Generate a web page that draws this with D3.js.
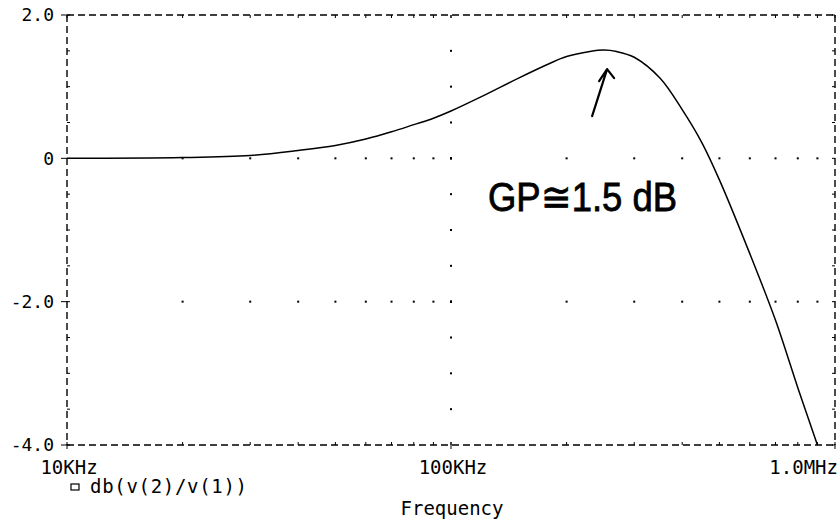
<!DOCTYPE html>
<html>
<head>
<meta charset="utf-8">
<script src="https://cdn.jsdelivr.net/npm/d3@7"></script>
<style>
  body { margin: 0; background: #fff; }
  text { font-family: "DejaVu Sans Mono", monospace; fill: #000; }
</style>
</head>
<body>
<svg id="chart" width="840" height="521"></svg>
<script>
// frequency (Hz) and gain db(v(2)/v(1))
const freqs = [1e4, 2e4, 3e4, 4e4, 5e4, 6e4, 7e4, 8e4, 9e4, 1e5, 1.2e5, 1.5e5, 1.8e5, 2e5,
               2.3e5, 2.5e5, 2.7e5, 3e5, 3.5e5, 4e5, 4.5e5, 5e5, 6e5, 7e5, 8e5, 9e5];
const gainDb = [0, 0.01, 0.04, 0.11, 0.18, 0.27, 0.37, 0.47, 0.56, 0.66, 0.86, 1.12, 1.32, 1.42,
                1.49, 1.51, 1.49, 1.41, 1.12, 0.68, 0.22, -0.30, -1.33, -2.26, -3.2, -4.0];

const xTicks = [1e4, 1e5, 1e6];
const xTickLabels = ["10KHz", "100KHz", "1.0MHz"];
const yTicks = [-4, -2, 0, 2];
const yTickLabels = ["-4.0", "-2.0", "0", "2.0"];
const seriesName = "db(v(2)/v(1))";
const note = "GP\u22451.5 dB";

let svg = d3.select('#chart');
let margin = {left: 67, right: 5, top: 15, bottom: 76};
let width = 840 - margin.left - margin.right;
let height = 521 - margin.top - margin.bottom;

let g = svg.append('g').attr('transform', `translate(${margin.left},${margin.top})`);

let x = d3.scaleLog().domain([1e4, 1e6]).range([0, width]);
let y = d3.scaleLinear().domain([-4, 2]).range([height, 0]);

// minor positions: log steps on x, 0.5 dB on y
let xMinor = [];
[1e4, 1e5].forEach(function(dec) {
    for (let m = 1; m <= 10; m++) xMinor.push(dec * m);
});
let yMinor = d3.range(-4, 2.01, 0.5);

// dotted grid (square dots) at 0 and -2.0 horizontally, at 100KHz vertically
let grid = g.append('g').attr('class', 'grid');
[0, -2].forEach(function(v) {
    grid.selectAll(null)
        .data(xMinor.filter(function(f) { return f > 1e4 && f < 1e6; }))
        .enter().append('rect')
        .attr('x', function(f) { return x(f) - 1; })
        .attr('y', y(v) - 1)
        .attr('width', 2).attr('height', 2)
        .attr('fill', '#000');
});
grid.selectAll(null)
    .data(yMinor.filter(function(v) { return v > -4 && v < 2; }))
    .enter().append('rect')
    .attr('x', x(1e5) - 1)
    .attr('y', function(v) { return y(v) - 1; })
    .attr('width', 2).attr('height', 2)
    .attr('fill', '#000');

// dashed frame
let frame = g.append('g')
    .attr('stroke', '#000')
    .attr('stroke-width', 1.4)
    .attr('stroke-dasharray', '7,4')
    .attr('fill', 'none');
frame.append('line').attr('x1', 0).attr('x2', width).attr('y1', 0).attr('y2', 0);
frame.append('line').attr('x1', 0).attr('x2', width).attr('y1', height).attr('y2', height);
frame.append('line').attr('x1', 0).attr('x2', 0).attr('y1', 0).attr('y2', height);
frame.append('line').attr('x1', width).attr('x2', width).attr('y1', 0).attr('y2', height);

// small tick marks on the frame
let ticks = g.append('g').attr('stroke', '#000').attr('stroke-width', 1);
xMinor.forEach(function(f) {
    ticks.append('line').attr('x1', x(f)).attr('x2', x(f)).attr('y1', 0).attr('y2', 3);
    ticks.append('line').attr('x1', x(f)).attr('x2', x(f)).attr('y1', height - 3).attr('y2', height);
});
yMinor.forEach(function(v) {
    ticks.append('line').attr('x1', 0).attr('x2', 3).attr('y1', y(v)).attr('y2', y(v));
    ticks.append('line').attr('x1', width - 3).attr('x2', width).attr('y1', y(v)).attr('y2', y(v));
});
yTicks.forEach(function(v) {
    ticks.append('line').attr('x1', -6).attr('x2', 0).attr('y1', y(v)).attr('y2', y(v));
});
xTicks.forEach(function(f) {
    ticks.append('line').attr('x1', x(f)).attr('x2', x(f)).attr('y1', height).attr('y2', height + 4);
});

// tick labels
g.selectAll('.ylab')
    .data(yTicks)
    .enter().append('text')
    .attr('class', 'ylab')
    .attr('x', -13)
    .attr('y', function(v) { return y(v); })
    .attr('dy', '0.36em')
    .attr('text-anchor', 'end')
    .style('font-size', '18px')
    .text(function(v, i) { return yTickLabels[i]; });

g.selectAll('.xlab')
    .data(xTicks)
    .enter().append('text')
    .attr('class', 'xlab')
    .attr('x', function(f, i) { return i === xTicks.length - 1 ? x(f) + 3 : x(f) + 2; })
    .attr('y', height + 29)
    .attr('text-anchor', function(f, i) { return i === xTicks.length - 1 ? 'end' : 'middle'; })
    .style('font-size', '19px')
    .text(function(f, i) { return xTickLabels[i]; });

// curve
let clip = svg.append('clipPath').attr('id', 'plotclip');
clip.append('rect').attr('width', width).attr('height', height);

let line = d3.line()
    .x(function(d) { return x(d[0]); })
    .y(function(d) { return y(d[1]); })
    .curve(d3.curveCatmullRom.alpha(0.5));

g.append('path')
    .datum(d3.zip(freqs, gainDb))
    .attr('clip-path', 'url(#plotclip)')
    .attr('d', line)
    .attr('fill', 'none')
    .attr('stroke', '#000')
    .attr('stroke-width', 1.5);

// legend
g.append('rect')
    .attr('x', 4).attr('y', height + 39)
    .attr('width', 8).attr('height', 6)
    .attr('fill', 'none').attr('stroke', '#000').attr('stroke-width', 1.2);
g.append('text')
    .attr('x', 23).attr('y', height + 48)
    .attr('textLength', 157)
    .attr('lengthAdjust', 'spacing')
    .style('font-size', '19px')
    .text(seriesName);

// axis title
g.append('text')
    .attr('x', x(1e5) + 1).attr('y', height + 70)
    .attr('text-anchor', 'middle')
    .style('font-size', '19px')
    .text('Frequency');

// handwritten note and arrow
g.append('text')
    .attr('x', 488 - margin.left).attr('y', 211 - margin.top)
    .attr('textLength', 189)
    .attr('lengthAdjust', 'spacingAndGlyphs')
    .style('font-family', '"Liberation Sans", sans-serif')
    .style('font-size', '40px')
    .style('stroke', '#000')
    .style('stroke-width', 0.8)
    .text(note);

let tip = [x(2.55e5), y(1.51) + 19];
g.append('path')
    .attr('d', `M${tip[0] - 15},${tip[1] + 47} L${tip[0]},${tip[1]}` +
               ` M${tip[0] - 8},${tip[1] + 12} L${tip[0]},${tip[1]} L${tip[0] + 7},${tip[1] + 9}`)
    .attr('fill', 'none')
    .attr('stroke', '#000')
    .attr('stroke-width', 2.2)
    .attr('stroke-linecap', 'round')
    .attr('stroke-linejoin', 'round');
</script>
</body>
</html>
